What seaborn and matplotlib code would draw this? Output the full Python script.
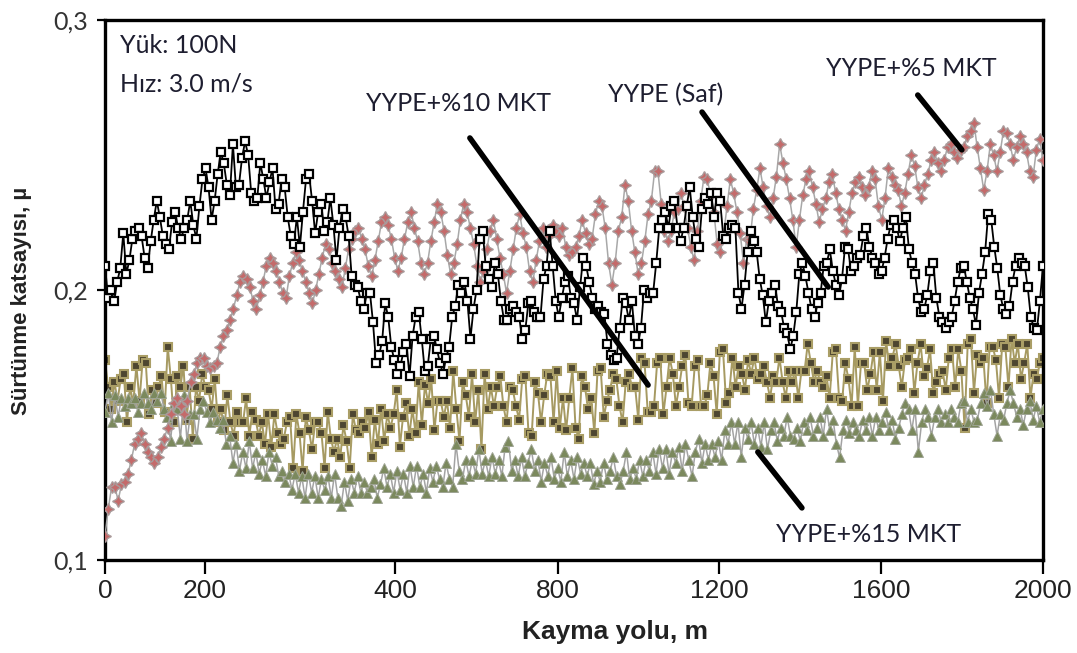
import numpy as np
import pandas as pd
import matplotlib
matplotlib.use("Agg")
import matplotlib.pyplot as plt
from matplotlib import font_manager
import seaborn as sns

# Friction coefficient readings along the sliding distance (one reading per step)
yype_saf = [
    0.209, 0.197, 0.200, 0.196, 0.203, 0.208, 0.221, 0.206, 0.211, 0.219, 0.222, 0.223, 0.220, 0.212, 0.208, 0.218,
    0.226, 0.233, 0.227, 0.220, 0.217, 0.215, 0.225, 0.229, 0.223, 0.219, 0.223, 0.226, 0.233, 0.224, 0.219, 0.231,
    0.241, 0.245, 0.238, 0.226, 0.233, 0.243, 0.251, 0.247, 0.239, 0.235, 0.254, 0.238, 0.239, 0.249, 0.255, 0.250,
    0.236, 0.233, 0.234, 0.247, 0.241, 0.234,
    0.240, 0.245, 0.230, 0.232, 0.241, 0.238, 0.227, 0.220, 0.217, 0.227, 0.216, 0.229, 0.241, 0.243, 0.233, 0.221,
    0.229, 0.232, 0.222, 0.225, 0.234, 0.224, 0.211, 0.223, 0.230, 0.227, 0.220, 0.205, 0.202, 0.201, 0.196, 0.193,
    0.199, 0.199, 0.188, 0.173, 0.176, 0.181, 0.195, 0.190, 0.179, 0.174, 0.169, 0.172, 0.177, 0.180, 0.168, 0.183,
    0.190,
    0.192, 0.182, 0.170, 0.172, 0.182, 0.183, 0.178, 0.173, 0.169, 0.175, 0.179, 0.190, 0.194, 0.202, 0.199, 0.203,
    0.196, 0.182, 0.193, 0.200, 0.219, 0.222, 0.209, 0.204, 0.201, 0.210, 0.206, 0.196, 0.189, 0.189, 0.193, 0.194,
    0.192, 0.190, 0.182, 0.185, 0.195, 0.196, 0.192, 0.190, 0.190, 0.204, 0.209, 0.222, 0.209, 0.196, 0.190, 0.197,
    0.203,
    0.205, 0.197, 0.195, 0.189, 0.201, 0.212, 0.209, 0.203, 0.197, 0.193, 0.194, 0.192, 0.191, 0.180, 0.176, 0.174,
    0.175, 0.186, 0.197, 0.195, 0.189, 0.196, 0.183, 0.180, 0.186, 0.200, 0.197, 0.199, 0.199, 0.210, 0.223, 0.226,
    0.229, 0.223, 0.231, 0.233, 0.223, 0.218, 0.223, 0.231, 0.238, 0.227, 0.219, 0.216, 0.230, 0.234, 0.232,
    0.236, 0.227, 0.236, 0.233, 0.220, 0.219, 0.223, 0.224, 0.223, 0.199, 0.193, 0.202, 0.214, 0.222, 0.218, 0.214,
    0.204, 0.198, 0.188, 0.196, 0.199, 0.202, 0.194, 0.192, 0.186, 0.184, 0.178, 0.183, 0.192, 0.206, 0.210, 0.205,
    0.199, 0.193, 0.190, 0.195, 0.199, 0.209, 0.210, 0.215, 0.207, 0.202, 0.198, 0.204, 0.216, 0.215, 0.207, 0.209,
    0.212, 0.213, 0.220, 0.223,
    0.216, 0.212, 0.210, 0.206, 0.207, 0.212, 0.219, 0.224, 0.226, 0.223, 0.218, 0.223, 0.227, 0.215, 0.210, 0.206,
    0.197, 0.192, 0.193, 0.198, 0.207, 0.210, 0.197, 0.190, 0.188, 0.186, 0.188, 0.190, 0.196, 0.203, 0.208, 0.209,
    0.203, 0.197, 0.193, 0.187, 0.199, 0.206, 0.214, 0.228, 0.226, 0.216, 0.208, 0.198, 0.193, 0.191, 0.194, 0.203,
    0.209, 0.212, 0.210, 0.209, 0.201, 0.190, 0.186, 0.185, 0.196, 0.209,
]

yype_mkt5 = [
    0.109, 0.119, 0.127, 0.127, 0.122, 0.128, 0.129, 0.132, 0.137, 0.143, 0.145, 0.147, 0.143, 0.140, 0.138, 0.136,
    0.138, 0.142, 0.145, 0.149, 0.154, 0.158, 0.160, 0.157, 0.154, 0.159, 0.166, 0.169, 0.173, 0.175, 0.175, 0.172,
    0.171, 0.172, 0.173, 0.179, 0.183, 0.185, 0.189, 0.193, 0.198, 0.203, 0.205, 0.204, 0.201, 0.196, 0.193, 0.198,
    0.203, 0.209, 0.212, 0.210, 0.207, 0.203, 0.199, 0.197, 0.205, 0.210, 0.214, 0.211, 0.207, 0.203, 0.199, 0.195,
    0.200, 0.206, 0.212, 0.217, 0.215, 0.210, 0.207, 0.204, 0.201, 0.208, 0.215, 0.219, 0.222, 0.223, 0.219, 0.215,
    0.209, 0.205, 0.211, 0.218, 0.225, 0.227, 0.224, 0.219, 0.212, 0.207, 0.212, 0.219, 0.225, 0.229,
    0.223, 0.218, 0.210, 0.206, 0.210, 0.218, 0.225, 0.232, 0.229, 0.222, 0.213, 0.206, 0.210, 0.217, 0.226, 0.232,
    0.229, 0.223, 0.217, 0.209, 0.203, 0.207, 0.215, 0.222, 0.226, 0.219, 0.212, 0.206, 0.199, 0.207, 0.215, 0.223,
    0.228, 0.221, 0.216, 0.207, 0.203, 0.211, 0.218, 0.223, 0.216, 0.220, 0.224, 0.222, 0.220, 0.223,
    0.216, 0.213, 0.214, 0.216, 0.220, 0.226, 0.221, 0.217, 0.219, 0.228, 0.233, 0.231, 0.223, 0.210, 0.202, 0.210,
    0.222, 0.227, 0.239, 0.233, 0.222, 0.214, 0.206, 0.210, 0.218, 0.228, 0.233, 0.244, 0.244, 0.232, 0.222, 0.218,
    0.222, 0.229, 0.230, 0.236, 0.231, 0.223, 0.216, 0.211, 0.222, 0.233, 0.242, 0.241, 0.235, 0.229, 0.217, 0.214,
    0.221, 0.231, 0.241,
    0.236, 0.229, 0.221, 0.210, 0.219, 0.219, 0.230, 0.237, 0.245, 0.238, 0.231, 0.227, 0.234, 0.242, 0.254, 0.247,
    0.241, 0.234, 0.226, 0.216, 0.226, 0.235, 0.241, 0.244, 0.238, 0.232, 0.225, 0.230, 0.234, 0.240, 0.243, 0.236,
    0.230, 0.226, 0.222, 0.229, 0.236, 0.240, 0.242, 0.238, 0.235, 0.238, 0.244, 0.241, 0.231, 0.226, 0.234, 0.245,
    0.242, 0.239, 0.237, 0.231, 0.236, 0.243, 0.250, 0.246, 0.238, 0.234, 0.239, 0.243, 0.248, 0.251, 0.247, 0.244,
    0.248, 0.253, 0.254, 0.251, 0.249, 0.252, 0.253, 0.257, 0.259, 0.262, 0.253, 0.245, 0.237, 0.244, 0.254, 0.250,
    0.244, 0.251, 0.259, 0.258, 0.254, 0.248, 0.253, 0.257, 0.254, 0.251, 0.244, 0.242, 0.252, 0.256, 0.248,
]

yype_mkt10 = [
    0.174, 0.164, 0.156, 0.166, 0.159, 0.167, 0.169, 0.151, 0.164, 0.158, 0.172, 0.159, 0.174, 0.173, 0.154, 0.163,
    0.158, 0.164, 0.168, 0.155, 0.179, 0.167, 0.151, 0.168, 0.164, 0.172, 0.152, 0.164, 0.145, 0.164, 0.159, 0.169,
    0.164, 0.163, 0.156, 0.167, 0.151, 0.156, 0.148, 0.161, 0.151, 0.146, 0.155, 0.151, 0.151, 0.160, 0.146, 0.155,
    0.152,
    0.146, 0.151, 0.143, 0.154, 0.142, 0.154, 0.147, 0.143, 0.145, 0.151, 0.153, 0.134, 0.154, 0.147, 0.133, 0.153,
    0.148, 0.141, 0.151, 0.151, 0.147, 0.134, 0.155, 0.145, 0.140, 0.145, 0.138, 0.150, 0.144, 0.134, 0.154, 0.148,
    0.147, 0.151, 0.149, 0.155, 0.138, 0.152, 0.143, 0.156, 0.144, 0.154, 0.149, 0.154, 0.163, 0.142, 0.153, 0.158,
    0.146,
    0.156, 0.147, 0.166, 0.150, 0.165, 0.158, 0.167, 0.148, 0.159, 0.159, 0.153, 0.159, 0.149, 0.170, 0.156, 0.144,
    0.166, 0.161, 0.153, 0.169, 0.151, 0.163, 0.141, 0.169, 0.156, 0.164, 0.157, 0.164, 0.168, 0.157, 0.151, 0.164,
    0.163, 0.157, 0.152, 0.167, 0.168, 0.147, 0.146, 0.166, 0.162, 0.151, 0.161, 0.169, 0.168, 0.151, 0.170, 0.149,
    0.160, 0.148,
    0.160, 0.171, 0.149, 0.145, 0.168, 0.164, 0.156, 0.160, 0.147, 0.170, 0.171, 0.153, 0.159, 0.163, 0.169, 0.167,
    0.157, 0.151, 0.166, 0.169, 0.164, 0.164, 0.152, 0.175, 0.173, 0.155, 0.155, 0.157, 0.173, 0.175, 0.154, 0.164,
    0.175, 0.169, 0.157, 0.164, 0.172, 0.176, 0.158, 0.157, 0.172, 0.174, 0.157, 0.157, 0.161, 0.173, 0.168, 0.154,
    0.177, 0.178, 0.158, 0.162,
    0.175, 0.164, 0.172, 0.169, 0.163, 0.174, 0.169, 0.175, 0.167, 0.169, 0.172, 0.166, 0.160, 0.168, 0.166, 0.175,
    0.166, 0.160, 0.170, 0.166, 0.170, 0.160, 0.170, 0.170, 0.180, 0.173, 0.166, 0.170, 0.166, 0.164, 0.168, 0.160,
    0.177, 0.178, 0.160, 0.159, 0.173, 0.167, 0.157, 0.179, 0.157, 0.173, 0.173, 0.163, 0.169, 0.177, 0.163, 0.177,
    0.159, 0.181,
    0.172, 0.175, 0.180, 0.172, 0.164, 0.174, 0.175, 0.178, 0.162, 0.173, 0.180, 0.168, 0.171, 0.178, 0.162, 0.166,
    0.169, 0.170, 0.163, 0.175, 0.178, 0.164, 0.178, 0.170, 0.149, 0.180, 0.182, 0.162, 0.176, 0.173, 0.175, 0.158,
    0.179, 0.179, 0.174, 0.160, 0.180, 0.179, 0.164, 0.182, 0.173, 0.180, 0.167, 0.173, 0.180, 0.160, 0.169, 0.167,
    0.173, 0.175,
]

yype_mkt15 = [
    0.155, 0.162, 0.151, 0.161, 0.153, 0.160, 0.157, 0.160, 0.158, 0.160, 0.155, 0.158, 0.162, 0.158, 0.156, 0.162,
    0.159, 0.162, 0.156, 0.153, 0.144, 0.158, 0.156, 0.145, 0.161, 0.144, 0.154, 0.154, 0.145, 0.156, 0.159, 0.155,
    0.151, 0.155, 0.152, 0.149, 0.152, 0.143, 0.146, 0.136, 0.143, 0.133, 0.140, 0.134, 0.144, 0.134, 0.140, 0.132,
    0.137, 0.131,
    0.140, 0.135, 0.138, 0.131, 0.133, 0.129, 0.132, 0.126, 0.132, 0.125, 0.131, 0.123, 0.132, 0.125, 0.131, 0.123,
    0.130, 0.126, 0.131, 0.123, 0.132, 0.123, 0.120, 0.129, 0.122, 0.130, 0.125, 0.131, 0.125, 0.129, 0.125, 0.127,
    0.130, 0.123, 0.128, 0.134, 0.127, 0.132, 0.125, 0.133, 0.126, 0.132, 0.125, 0.135, 0.127, 0.135, 0.127,
    0.132, 0.125, 0.134, 0.129, 0.135, 0.130, 0.127, 0.136, 0.130, 0.127, 0.143, 0.133, 0.130, 0.137, 0.131, 0.137,
    0.132, 0.141, 0.132, 0.137, 0.131, 0.138, 0.132, 0.137, 0.131, 0.142, 0.144, 0.133, 0.137, 0.131, 0.138, 0.131,
    0.136, 0.141, 0.133, 0.137, 0.129, 0.136, 0.131, 0.138, 0.130, 0.134, 0.129, 0.140, 0.131, 0.137, 0.130, 0.138,
    0.132, 0.136, 0.131, 0.136, 0.128, 0.133, 0.129, 0.136, 0.130, 0.133, 0.138, 0.131, 0.128, 0.133, 0.140, 0.130,
    0.134, 0.130, 0.137, 0.131, 0.137, 0.133, 0.140, 0.132, 0.141, 0.134, 0.141, 0.132, 0.140, 0.136, 0.142, 0.133,
    0.143, 0.137, 0.131, 0.140, 0.145, 0.136, 0.143, 0.137, 0.143, 0.138, 0.144, 0.137, 0.148, 0.143, 0.151,
    0.143, 0.151, 0.138, 0.149, 0.145, 0.151, 0.143, 0.149, 0.142, 0.151, 0.141, 0.148, 0.151, 0.144, 0.149, 0.146,
    0.153, 0.146, 0.145, 0.149, 0.144, 0.151, 0.148, 0.153, 0.146, 0.149, 0.153, 0.146, 0.156, 0.148, 0.152, 0.143,
    0.138, 0.148, 0.152, 0.147, 0.151, 0.148, 0.146, 0.152, 0.148, 0.153, 0.146, 0.153, 0.148, 0.151,
    0.155, 0.148, 0.152, 0.145, 0.149, 0.154, 0.158, 0.156, 0.148, 0.156, 0.140, 0.151, 0.156, 0.153, 0.146, 0.153,
    0.156, 0.151, 0.154, 0.151, 0.156, 0.153, 0.151, 0.158, 0.159, 0.151, 0.156, 0.151, 0.152, 0.158, 0.162, 0.157,
    0.163, 0.154, 0.146, 0.154, 0.152, 0.158, 0.163, 0.158, 0.153, 0.156, 0.150, 0.156, 0.159, 0.152, 0.157, 0.151,
    0.156,
]

x_ticks = [0, 213, 618, 965, 1310, 1655, 2000]
x_tick_labels = ["0", "200", "400", "800", "1200", "1600", "2000"]
y_ticks = [0.1, 0.2, 0.3]
y_tick_labels = ["0,1", "0,2", "0,3"]

series_names = ["YYPE (Saf)", "YYPE+%5 MKT", "YYPE+%10 MKT", "YYPE+%15 MKT"]
series_values = [yype_saf, yype_mkt5, yype_mkt10, yype_mkt15]

frames = []
for name, vals in zip(series_names, series_values):
    frames.append(pd.DataFrame({
        "mesafe": np.linspace(0, 2000, len(vals)),
        "mu": vals,
        "seri": name,
    }))
df = pd.concat(frames, ignore_index=True)

sns.set_theme(style="ticks")
names = {f.name for f in font_manager.fontManager.ttflist}
narrow = "Liberation Sans Narrow" if "Liberation Sans Narrow" in names else "Liberation Sans"
plt.rcParams["font.family"] = ["Liberation Sans", "DejaVu Sans"]
text_family = ["Lato", "DejaVu Sans"]

fig = plt.figure(figsize=(10.77, 6.53), dpi=100)
fig.patch.set_facecolor("white")
ax = fig.add_axes([0.0975, 0.1424, 0.8709, 0.8270])
ax.set_facecolor("white")

styles = {
    "YYPE+%10 MKT": dict(color="#a69a62", linewidth=1.4, marker="s", markersize=5.4,
                         markerfacecolor="#4d4630", markeredgecolor="#aa9e66", markeredgewidth=1.5, zorder=2),
    "YYPE+%15 MKT": dict(color="#a3a3a3", linewidth=1.1, marker="^", markersize=7.0,
                         markerfacecolor="#7b895d", markeredgecolor="#9ea493", markeredgewidth=0.7, zorder=3),
    "YYPE+%5 MKT": dict(color="#a8a8a8", linewidth=1.1, marker=(4, 1, 0), markersize=8.5,
                        markerfacecolor="#c46a6a", markeredgecolor="#a99a9a", markeredgewidth=1.0, zorder=4),
    "YYPE (Saf)": dict(color="black", linewidth=1.3, marker="s", markersize=5.6,
                       markerfacecolor="white", markeredgecolor="black", markeredgewidth=1.6, zorder=5),
}

for name in ["YYPE+%10 MKT", "YYPE+%15 MKT", "YYPE+%5 MKT", "YYPE (Saf)"]:
    sub = df[df["seri"] == name]
    sns.lineplot(data=sub, x="mesafe", y="mu", ax=ax, estimator=None, sort=False,
                 legend=False, **styles[name])

ax.set_xlim(0, 2000)
ax.set_ylim(0.1, 0.3)
ax.set_xticks(x_ticks)
ax.set_xticklabels(x_tick_labels, fontfamily=narrow, fontsize=19, color="#222222")
ax.set_yticks(y_ticks)
ax.set_yticklabels(y_tick_labels, fontfamily=text_family, fontsize=18, color="#333333")
ax.tick_params(axis="x", direction="out", length=10, width=1.6, color="black", pad=4)
ax.tick_params(axis="y", direction="out", length=6, width=1.6, color="black", pad=6)
for side in ["left", "right", "top", "bottom"]:
    ax.spines[side].set_visible(True)
    ax.spines[side].set_linewidth(2.4)
    ax.spines[side].set_color("black")

ax.set_xlabel("Kayma yolu, m", fontfamily=narrow, fontsize=19, fontweight="bold", color="#222222")
ax.xaxis.set_label_coords(0.544, -0.112)
ax.set_ylabel("Sürtünme katsayısı, µ", fontsize=16, fontweight="bold", color="#222222")
ax.yaxis.set_label_coords(-0.078, 0.48)

txt = dict(fontfamily=text_family, fontsize=18, color="#1e1e30")
ax.text(32, 0.2904, "Yük: 100N", ha="left", va="center", **txt)
ax.text(32, 0.2763, "Hız: 3.0 m/s", ha="left", va="center", **txt)
ax.text(753, 0.2689, "YYPE+%10 MKT", ha="center", va="center", **txt)
ax.text(1196, 0.2722, "YYPE (Saf)", ha="center", va="center", **txt)
ax.text(1719, 0.2822, "YYPE+%5 MKT", ha="center", va="center", **txt)
ax.text(1629, 0.1093, "YYPE+%15 MKT", ha="center", va="center", **txt)

pointer = dict(arrowstyle="-", color="black", linewidth=4.0, shrinkA=0, shrinkB=0)
ax.annotate("", xy=(1158, 0.1648), xytext=(778, 0.2563), arrowprops=pointer, zorder=6)
ax.annotate("", xy=(1542, 0.2011), xytext=(1273, 0.2659), arrowprops=pointer, zorder=6)
ax.annotate("", xy=(1827, 0.2519), xytext=(1733, 0.2722), arrowprops=pointer, zorder=6)
ax.annotate("", xy=(1392, 0.1400), xytext=(1486, 0.1193), arrowprops=pointer, zorder=6)

fig.savefig("out.png", dpi=100, facecolor="white")
